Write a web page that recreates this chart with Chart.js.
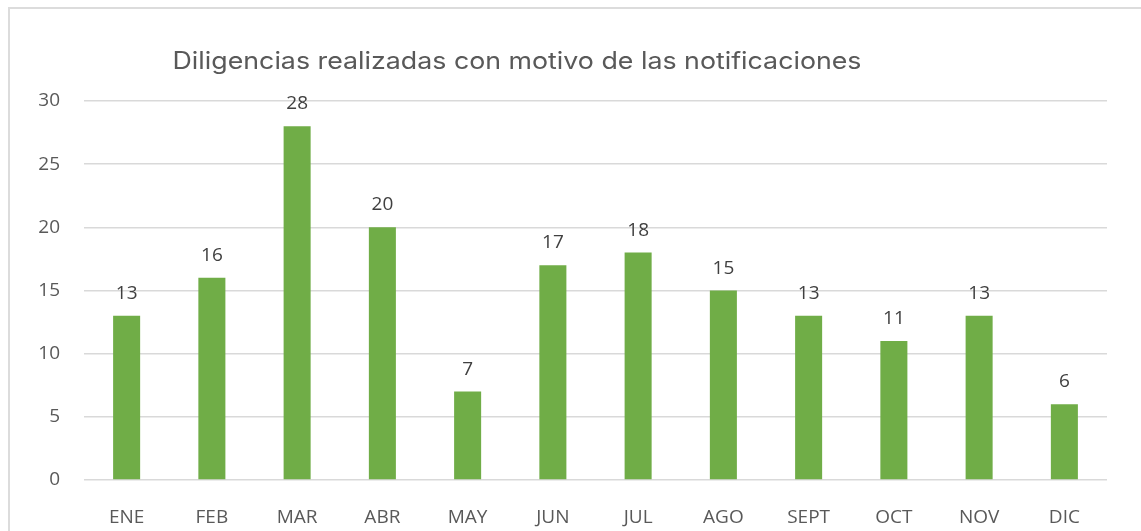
<!DOCTYPE html>
<html>
<head>
<meta charset="utf-8">
<script src="https://cdn.jsdelivr.net/npm/chart.js@4.4.1/dist/chart.umd.min.js"></script>
<style>
  html, body { margin: 0; padding: 0; background: #ffffff; overflow: hidden; }
  #wrap { position: relative; width: 1141px; height: 531px; }
  #frame { position: absolute; left: 8px; top: 7px; width: 1200px; height: 600px;
           border: 2px solid #dcdcdc; box-sizing: border-box; }
  canvas { position: absolute; left: 0; top: 0; }
</style>
</head>
<body>
<div id="wrap">
  <div id="frame"></div>
  <canvas id="chart" width="1141" height="531"></canvas>
</div>
<script>
const chartTitle = 'Diligencias realizadas con motivo de las notificaciones';
const months = ['ENE', 'FEB', 'MAR', 'ABR', 'MAY', 'JUN', 'JUL', 'AGO', 'SEPT', 'OCT', 'NOV', 'DIC'];
const diligencias = [13, 16, 28, 20, 7, 17, 18, 15, 13, 11, 13, 6];
const yTicks = [0, 5, 10, 15, 20, 25, 30];

const textColor = '#595959';
const labelFont = '19px "Open Sans", sans-serif';

// titulo (desplazado a la izquierda como en el original)
const titlePlugin = {
  id: 'titleText',
  afterDraw(chart) {
    const ctx = chart.ctx;
    ctx.save();
    ctx.font = '24px Inter, sans-serif';
    ctx.fillStyle = textColor;
    ctx.textAlign = 'center';
    ctx.textBaseline = 'alphabetic';
    const w = ctx.measureText(chartTitle).width;
    // ajustar al ancho del original (~689px)
    const sx = 689 / w;
    ctx.translate(517, 69);
    ctx.scale(sx, 1);
    ctx.fillText(chartTitle, 0, 0);
    ctx.restore();
  }
};

// etiquetas de valor encima de cada barra
const valueLabels = {
  id: 'valueLabels',
  afterDatasetsDraw(chart) {
    const ctx = chart.ctx;
    const meta = chart.getDatasetMeta(0);
    ctx.save();
    ctx.font = labelFont;
    ctx.fillStyle = '#404040';
    ctx.textAlign = 'center';
    ctx.textBaseline = 'alphabetic';
    meta.data.forEach((bar, i) => {
      ctx.fillText(String(diligencias[i]), bar.x, bar.y - 17);
    });
    ctx.restore();
  }
};

new Chart(document.getElementById('chart'), {
  type: 'bar',
  data: {
    labels: months,
    datasets: [{
      data: diligencias,
      backgroundColor: '#70ad47',
      borderWidth: 0,
      barPercentage: 0.317,
      categoryPercentage: 1
    }]
  },
  options: {
    responsive: false,
    animation: false,
    layout: { padding: { top: 101, right: 34, bottom: 0, left: 0 } },
    plugins: {
      legend: { display: false },
      tooltip: { enabled: false },
      title: { display: false }
    },
    scales: {
      x: {
        grid: { display: false },
        border: { display: false },
        ticks: { color: textColor, font: { family: '"Open Sans", sans-serif', size: 19 }, padding: 18, maxRotation: 0 },
        afterFit(scale) { scale.height = 51; }
      },
      y: {
        min: 0,
        max: 30,
        afterBuildTicks(scale) { scale.ticks = yTicks.map(v => ({ value: v })); },
        grid: { color: '#d9d9d9', lineWidth: 1.5, drawTicks: false },
        border: { display: false },
        ticks: { color: textColor, font: { family: '"Open Sans", sans-serif', size: 19 }, padding: 24 },
        afterFit(scale) { scale.width = 84; }
      }
    }
  },
  plugins: [titlePlugin, valueLabels]
});
</script>
</body>
</html>
